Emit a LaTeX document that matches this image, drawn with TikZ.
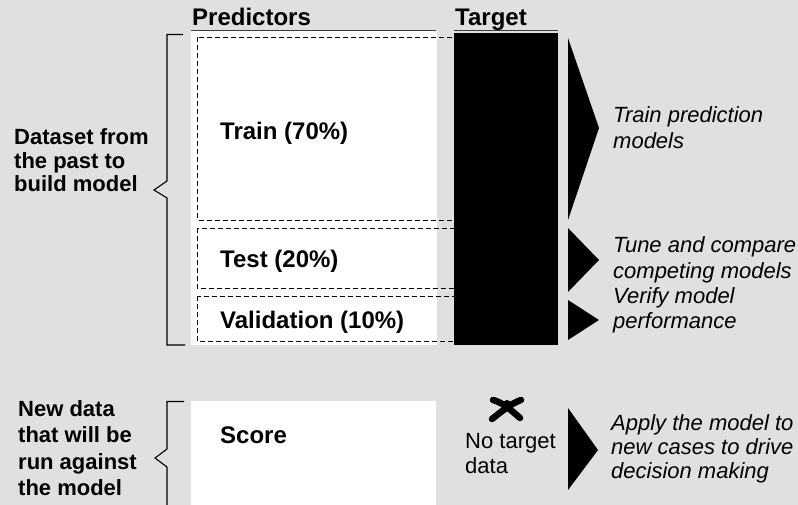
\documentclass[tikz,border=0pt]{standalone}
\usepackage{fontspec}
\setmainfont{Liberation Sans}
\definecolor{bggray}{RGB}{224,224,224}
\definecolor{rulegray}{RGB}{60,60,60}
\begin{document}
\begin{tikzpicture}[x=1pt,y=-1pt,
  head/.style={font=\fontsize{24}{28}\selectfont\bfseries, inner sep=0, anchor=base west},
  side/.style={font=\fontsize{22}{23.3}\selectfont\bfseries, inner sep=0, anchor=base west, align=left},
  note/.style={font=\fontsize{22}{25}\selectfont\itshape, inner sep=0, anchor=base west, align=left},
  plain/.style={font=\fontsize{22}{25}\selectfont, inner sep=0, anchor=base west, align=left},
  part/.style={draw=black, line width=0.9pt, dash pattern=on 5pt off 3pt},
  brace/.style={draw=black, line width=1.1pt},
  pointer/.style={fill=black},
  stroke/.style={draw=black, line width=6.5pt, line cap=round},
  hrule/.style={draw=rulegray, line width=1.4pt}]
  % canvas
  \fill[bggray] (0,0) rectangle (798,505);
  \useasboundingbox (0,0) rectangle (798,505);

  % predictor area and target column
  \fill[white] (191,31) rectangle (437,345);
  \fill[white] (191,401) rectangle (436,505);
  \draw[part] (197,37.5) rectangle (470,220);
  \draw[part] (197,228) rectangle (470,288);
  \draw[part] (197,296) rectangle (470,341);
  \fill[black] (454,33) rectangle (558,345);

  % column headings
  \node[head] (pred) at (192,26) {Predictors};
  \node[head] (targ) at (455,26) {Target};
  \draw[hrule] (191,30.5) -- (436,30.5);
  \draw[hrule] (454,30.5) -- (558,30.5);

  % partitions
  \node[head] (train) at (220,140) {Train (70\%)};
  \node[head] (test) at (220,268) {Test (20\%)};
  \node[head] (valid) at (220,328) {Validation (10\%)};
  \node[head] (score) at (220,443) {Score};

  % left-hand braces (multi-line labels are placed by their last baseline)
  \draw[brace] (183,34.5) -- (167,34.5) -- (167,181) -- (154,190) -- (167,198) -- (167,345) -- (185,345);
  \draw[brace] (184,401.5) -- (167,401.5) -- (167,449) -- (155,458) -- (167,467) -- (167,506);
  \node[side] (past) at (14,191.6) {Dataset from\\the past to\\build model};
  \node[side, font=\fontsize{22}{26.5}\selectfont\bfseries] (new) at (18,495.5) {New data\\that will be\\run against\\the model};

  % pointers
  \fill[pointer] (568,38) -- (599,128) -- (568,220) -- cycle;
  \fill[pointer] (568,228) -- (599,260) -- (568,292) -- cycle;
  \fill[pointer] (568,300) -- (599,320) -- (568,340) -- cycle;
  \fill[pointer] (568,408) -- (598,450) -- (568,490) -- cycle;

  % purposes
  \node[note, font=\fontsize{22}{26}\selectfont\itshape] (n1) at (613,149) {Train prediction\\models};
  \node[note] (n2) at (613,278) {Tune and compare\\competing models};
  \node[note] (n3) at (613,328) {Verify model\\performance};
  \node[note, font=\fontsize{22}{24}\selectfont\itshape] (n4) at (611,478) {Apply the model to\\new cases to drive\\decision making};

  % missing target marker
  \draw[stroke] (493,400) .. controls (501,402) and (509,408) .. (520,418);
  \draw[stroke] (521,400) .. controls (512,403) and (502,411) .. (492,419);
  \fill[black] (507,405) circle (5pt);
  \node[plain] (none) at (465,473) {No target\\data};
\end{tikzpicture}
\end{document}
